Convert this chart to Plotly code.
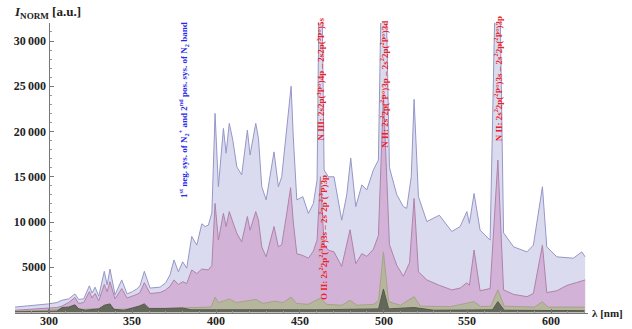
import plotly.graph_objects as go

# ---- data (wavelength in nm, normalized intensity in a.u.) ----
lam_top = [280, 290, 300, 305, 308, 312, 315.8, 318, 321, 324.4, 326, 327.8, 330, 333.3, 335, 336.7,
           339.7, 343.7, 346.9, 350, 352.7, 354.6, 357.2, 360.6, 366.6, 370, 372.5, 374.9, 377.5,
           380.1, 382.5, 385.5, 388.5, 391.5, 393.5, 395.4, 397.5, 399.4, 401.4, 404.4, 406, 407.9,
           410, 412.4, 415.3, 418.7, 420.3, 423.7, 425.3, 427.3, 429.9, 434.6, 437.2, 439.2, 442.2,
           444.8, 446.1, 448.2, 451.8, 455.1, 458.1, 460.3, 462.3, 464.5, 467, 470.4, 475, 478,
           480.4, 483.4, 487, 490, 493.9, 496.9, 499.9, 503.5, 507.9, 511.8, 513.8, 516.5, 518.2,
           520.8, 525.8, 533.3, 540.7, 545.7, 549.7, 551.2, 554, 557.6, 563.6, 568.2, 571.6, 577.6,
           585.6, 589.4, 594.8, 597.4, 603.4, 613.3, 618.3, 620.3]
int_top = [600, 750, 950, 1100, 1350, 1500, 2050, 1450, 1500, 2950, 2150, 2800, 1800, 4550, 3050, 4800,
           1950, 3600, 2050, 2300, 2600, 2950, 4550, 2700, 2800, 3300, 4150, 5800, 4500,
           5600, 4900, 8400, 7450, 9800, 9500, 9650, 11000, 22000, 13900, 20350, 17600, 20900,
           19050, 16100, 15200, 20150, 17400, 20900, 19250, 13900, 12450, 17750, 13900, 15000, 20500,
           25000, 19400, 12450, 12800, 10950, 12050, 14650, 50000, 15750, 15000, 15000, 10200, 13000,
           17050, 11700, 14100, 13550, 15750, 16850, 50000, 16000, 13000, 11700, 11500, 15000, 23550,
           12800, 10050, 10750, 8950, 9500, 11150, 9850, 13150, 9100, 8000, 50000, 8800, 7250,
           6700, 7450, 13900, 7250, 6150, 6000, 6700, 6150]

lam_mid = [280, 290, 300, 305, 308, 312, 315.8, 318, 321, 324.4, 326, 327.8, 330, 333.3, 335, 336.7,
           339.7, 343.7, 346.9, 350, 352.7, 354.6, 357.2, 360.6, 366.6, 370, 372.5, 374.9, 377.5,
           380.1, 382.5, 385.5, 388.5, 391.5, 395.4, 397.5, 399.4, 401.4, 404.4, 406, 407.9, 410,
           412.4, 415.3, 418.7, 420.3, 423.7, 425.3, 427.3, 429.9, 434.6, 437.2, 439.2, 442.2, 444.5,
           446.1, 448.2, 451.8, 455.1, 458.1, 460.3, 462.3, 464.5, 467, 470.4, 475, 480, 483.4, 487,
           490, 493.9, 496.9, 499.9, 503.5, 507.9, 511.8, 515.5, 518.2, 520.8, 525.8, 533.3, 540.7,
           545.7, 549.7, 551.2, 554, 557.6, 563.6, 568.2, 571.6, 577.6, 585.6, 589.4, 594.8, 597.4,
           603.4, 609.5, 615, 620.3]
int_mid = [250, 350, 450, 550, 700, 1100, 1650, 1000, 1100, 2300, 1600, 2100, 1300, 3100, 2300, 3400,
           1500, 2650, 1600, 1800, 2000, 2200, 3300, 2100, 2200, 2500, 2900, 3600, 3100,
           3400, 3200, 4700, 4300, 4800, 4700, 5200, 12050, 8000, 10950, 9500, 11150, 10000,
           8750, 7800, 10600, 9100, 11150, 10200, 7250, 6150, 9500, 7250, 7500, 10950, 13800,
           10000, 6500, 6300, 6000, 6800, 8000, 15000, 7500, 6900, 6700, 5100, 9150, 5400, 6500,
           6200, 7000, 8500, 24000, 7500, 5200, 4000, 5500, 12600, 4500, 3600, 3000, 2500,
           2700, 3300, 3000, 6900, 2400, 2650, 16850, 2500, 2000, 1750, 2100, 7450, 2200,
           2400, 3000, 3300, 3600]

lam_low = [280, 300, 308, 315, 320, 330, 336, 340, 350, 357, 360, 370, 380, 390, 397, 399.4, 401.4,
           405, 408, 412, 419, 424, 428, 435, 440, 444.8, 448, 455, 462.3, 466, 475, 480, 484, 494,
           497, 499.9, 503, 510, 518.2, 522, 540, 554, 558, 564, 568.2, 572, 590, 594.8, 598, 620]
int_low = [150, 250, 400, 600, 350, 450, 800, 350, 400, 800, 400, 450, 500, 500, 600, 1700, 1100,
           1300, 1500, 1100, 1300, 1450, 1000, 1250, 1100, 1700, 1000, 900, 1600, 900, 800, 1350, 800, 900,
           1300, 6700, 1200, 800, 1750, 700, 650, 1200, 650, 700, 2500, 700, 600, 1200, 600, 600]

lam_min = [280, 300, 305, 308, 312, 315.8, 318, 322, 330, 333.3, 336.7, 339, 345, 350, 354, 357.2,
           360, 370, 380, 385, 390, 400, 430, 460, 497, 499.9, 503, 518.2, 530, 565, 568.2, 572, 620]
int_min = [80, 120, 150, 550, 600, 850, 400, 250, 400, 800, 950, 350, 250, 500, 700, 950,
           450, 450, 500, 300, 300, 350, 300, 300, 400, 2600, 400, 550, 250, 300, 1200, 250, 200]

y_tickvals = [5000, 10000, 15000, 20000, 25000, 30000]
y_ticktext = ["5000", "10\u2009000", "15\u2009000", "20\u2009000", "25\u2009000", "30\u2009000"]
x_tickvals = [300, 350, 400, 450, 500, 550, 600]
x_ticktext = ["300", "350", "400", "450", "500", "550", "600"]

labels_red = [
    (462.4, 25800, "N III: 2s2p(<sup>3</sup>P°)4p – 2s2p(<sup>3</sup>P°)5s"),
    (464.2, 8300, "O II: 2s<sup>2</sup>2p<sup>2</sup>(<sup>3</sup>P)3s – 2s<sup>2</sup>2p<sup>2</sup>(<sup>3</sup>P)3p"),
    (500.4, 25200, "N II: 2s<sup>2</sup>2p(<sup>2</sup>P°)3p – 2s<sup>2</sup>2p(<sup>2</sup>P°)3d"),
    (568.5, 25800, "N II: 2s<sup>2</sup>2p(<sup>2</sup>P°)3s – 2s<sup>2</sup>2p(<sup>2</sup>P°)3p"),
]
label_blue = (381.0, 22400, "1<sup>st</sup> neg. sys. of N<sub>2</sub><sup>+</sup> and 2<sup>nd</sup> pos. sys. of N<sub>2</sub> band")

W, H = 632, 329
SERIF = "Liberation Serif, Times New Roman, serif"

fig = go.Figure()
series = [
    (lam_top, int_top, "rgb(219,219,239)", "rgb(150,150,200)"),
    (lam_mid, int_mid, "rgb(210,178,214)", "rgb(175,130,170)"),
    (lam_low, int_low, "rgb(182,182,158)", "rgb(165,163,135)"),
    (lam_min, int_min, "rgb(100,104,90)", "rgb(85,90,75)"),
]
for lx, ly, fc, lc in series:
    fig.add_trace(go.Scatter(x=lx, y=ly, mode="lines", fill="tozeroy",
                             fillcolor=fc, line=dict(color=lc, width=1),
                             hoverinfo="skip", showlegend=False))

x0, x1 = 15, 588
ybot, ytop = 312.5, 22.9
fig.update_layout(
    width=W, height=H, margin=dict(l=0, r=0, t=0, b=0),
    paper_bgcolor="white", plot_bgcolor="white",
    font=dict(family=SERIF, size=12, color="#222"),
    xaxis=dict(domain=[x0 / W, x1 / W], range=[280, 622], showgrid=False, zeroline=False,
               showline=True, linecolor="#777", linewidth=1,
               tickvals=x_tickvals, ticks="inside", ticklen=4, tickcolor="#777",
               minor=dict(dtick=10, tick0=300, ticks="inside", ticklen=2, tickcolor="#999"),
               showticklabels=False, anchor="y"),
    yaxis=dict(domain=[(H - ybot) / H, (H - ytop) / H], range=[0, 32000], showgrid=False,
               zeroline=False, showline=True, linecolor="#777", linewidth=1,
               anchor="free", position=48.5 / W,
               tickvals=y_tickvals, ticktext=y_ticktext, ticks="inside", ticklen=4, tickcolor="#777",
               minor=dict(dtick=1000, tick0=0, ticks="inside", ticklen=2, tickcolor="#999"),
               tickfont=dict(family=SERIF, size=12, color="#222", weight="bold")),
)

# x tick labels, placed just under the axis line
for v, t in zip(x_tickvals, x_ticktext):
    fig.add_annotation(x=v, y=1 - 321 / H, xref="x", yref="paper", text="<b>" + t + "</b>",
                       showarrow=False, yanchor="middle",
                       font=dict(family=SERIF, size=12, color="#222"))

for lx, ly, txt in labels_red:
    fig.add_annotation(x=lx, y=ly, xref="x", yref="y", text="<b>" + txt + "</b>", showarrow=False,
                       textangle=-90, font=dict(family=SERIF, size=9, color="rgb(235,30,40)"))
fig.add_annotation(x=label_blue[0], y=label_blue[1], xref="x", yref="y", text="<b>" + label_blue[2] + "</b>",
                   showarrow=False, textangle=-90,
                   font=dict(family=SERIF, size=9, color="rgb(40,40,230)"))

fig.add_annotation(x=12 / W, y=1 - 13 / H, xref="paper", yref="paper", xanchor="left", yanchor="middle",
                   text="<b><i>I</i><sub>NORM</sub> [a.u.]</b>", showarrow=False,
                   font=dict(family=SERIF, size=13, color="#222"))
fig.add_annotation(x=590 / W, y=1 - 313 / H, xref="paper", yref="paper", xanchor="left", yanchor="middle",
                   text="<b>λ [nm]</b>", showarrow=False,
                   font=dict(family=SERIF, size=11, color="#222"))

fig.write_html("out.html", config={"displayModeBar": False, "staticPlot": True},
               post_script="document.body.style.margin='0';document.body.style.overflow='hidden';")
